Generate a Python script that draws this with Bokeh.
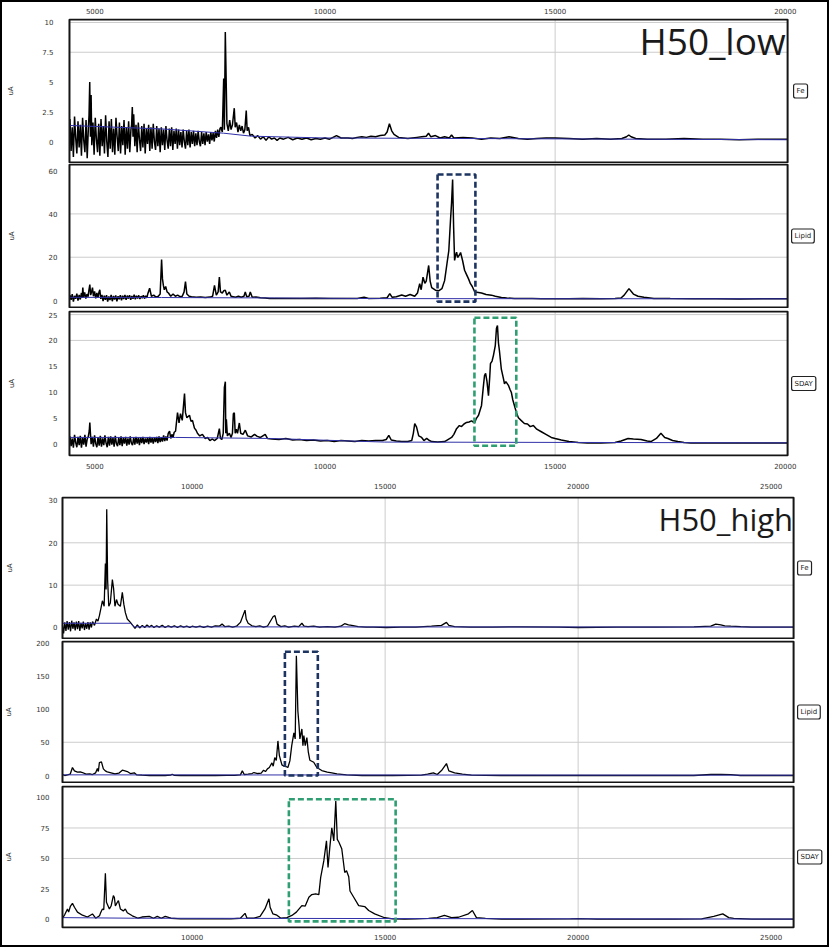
from bokeh.plotting import figure
from bokeh.layouts import column, row
from bokeh.models import FixedTicker, Label, Range1d, LinearAxis, NumeralTickFormatter, Spacer
from bokeh.embed import file_html
from bokeh.resources import INLINE

# ---------------- data ----------------
group_titles = ["H50_low", "H50_high"]
panel_names = ["Fe", "Lipid", "SDAY"]

low_x_ticks = [5000, 10000, 15000, 20000]
high_x_ticks = [10000, 15000, 20000, 25000]
low_x_grid = [15000]
high_x_grid = [15000, 20000]

fe_low_y_ticks = [0, 2.5, 5, 7.5, 10]
lipid_low_y_ticks = [0, 20, 40, 60]
sday_low_y_ticks = [0, 5, 10, 15, 20, 25]
fe_high_y_ticks = [0, 10, 20, 30]
lipid_high_y_ticks = [0, 50, 100, 150, 200]
sday_high_y_ticks = [0, 25, 50, 75, 100]

fe_low_y_grid = [7.5, 10]
lipid_low_y_grid = [20, 40]
sday_low_y_grid = [20, 25]
fe_high_y_grid = [10, 20]
lipid_high_y_grid = [50]
sday_high_y_grid = [50, 75]

# axis extents of each group and panel
low_x_extent = [4450, 20050]
high_x_extent = [6641, 25582]
fe_low_y_extent = [-1.76, 10.25]
lipid_low_y_extent = [-3.2, 62.8]
sday_low_y_extent = [-2.3, 25.6]
fe_high_y_extent = [-2.6, 30.7]
lipid_high_y_extent = [-10.5, 201.5]
sday_high_y_extent = [-6.6, 109.0]

# spectra as (m/z, uA) pairs
fe_low = [
    (4460,1.9),(4485,-0.8),(4510,1.2),(4535,-1.3),(4560,2.1),(4585,0.3),(4610,-1.0),(4635,1.7),(4660,-0.5),(4685,1.4),
    (4710,-1.2),(4735,2.0),(4760,0.1),(4785,-0.9),(4810,1.8),(4835,-1.4),(4860,1.1),(4875,2.2),(4890,5.0),(4905,0.4),
    (4920,3.9),(4935,-0.3),(4960,1.6),(4985,-1.1),(5010,2.0),(5035,0.2),(5060,-0.9),(5085,1.5),(5110,-1.2),(5135,1.9),
    (5160,-0.4),(5185,1.3),(5210,-1.0),(5235,2.2),(5260,0.0),(5285,-1.3),(5310,1.7),(5335,-0.6),(5360,1.9),(5385,-0.9),
    (5410,1.1),(5435,-1.1),(5460,2.0),(5485,0.4),(5510,-0.8),(5535,1.6),(5560,-1.0),(5585,1.3),(5610,-0.3),(5635,1.8),
    (5660,-1.1),(5685,1.2),(5710,-0.6),(5735,1.7),(5760,-0.9),(5785,1.0),(5800,1.4),(5815,2.9),(5830,0.4),(5845,2.3),
    (5870,-0.4),(5895,1.4),(5920,-0.9),(5945,1.6),(5970,0.2),(5995,-0.8),(6020,1.3),(6045,-0.5),(6070,1.5),(6095,-1.0),
    (6120,1.1),(6145,-0.2),(6170,1.4),(6195,-0.8),(6220,1.2),(6245,-0.6),(6270,1.5),(6295,0.0),(6320,-0.7),(6345,1.3),
    (6370,-0.4),(6395,1.1),(6420,-0.9),(6445,1.2),(6470,-0.3),(6495,1.0),(6520,-0.7),(6545,1.3),(6570,0.1),(6595,-0.6),
    (6620,1.1),(6645,-0.4),(6670,1.2),(6695,-0.7),(6720,0.9),(6745,-0.2),(6770,1.1),(6795,-0.6),(6820,1.0),(6845,-0.3),
    (6870,0.8),(6895,-0.5),(6920,1.0),(6945,0.0),(6970,-0.6),(6995,0.9),(7020,-0.3),(7045,1.0),(7070,-0.5),(7095,0.8),
    (7120,-0.2),(7145,0.9),(7170,-0.4),(7195,0.7),(7220,-0.3),(7245,0.9),(7270,0.0),(7295,-0.4),(7320,0.8),(7345,-0.2),
    (7370,0.7),(7395,-0.3),(7420,0.8),(7445,0.0),(7470,0.6),(7495,-0.2),(7520,0.8),(7545,0.1),(7570,0.7),(7595,0.0),
    (7620,0.9),(7645,0.3),(7670,1.0),(7695,0.4),(7720,1.1),
    (7740,1.2),(7770,0.8),(7800,5.3),(7815,1.0),(7835,9.2),(7850,6.0),(7870,1.5),(7900,0.9),(7930,1.8),(7960,1.0),
    (7990,1.4),(8030,2.8),(8050,1.2),(8080,1.6),(8110,0.8),(8140,1.4),(8170,0.9),(8200,1.3),(8230,0.7),(8260,1.0),
    (8290,2.6),(8310,0.9),(8340,1.2),(8370,0.5),(8420,0.6),(8480,0.3),(8540,0.5),(8600,0.2),(8660,0.4),(8720,0.1),
    (8780,0.4),(8840,0.2),(8900,0.3),(8960,0.1),(9020,0.3),(9100,0.2),(9200,0.35),(9300,0.15),(9400,0.3),(9500,0.2),
    (9600,0.3),(9700,0.15),(9800,0.25),(9900,0.2),(10000,0.3),(10100,0.2),(10250,0.5),(10350,0.3),(10500,0.3),(10600,0.25),
    (10700,0.35),(10800,0.4),(10900,0.35),(11000,0.45),(11100,0.4),(11200,0.5),(11300,0.55),(11350,0.8),(11400,1.5),(11450,0.9),
    (11500,0.6),(11600,0.35),(11700,0.3),(11800,0.25),(11900,0.3),(12000,0.35),(12100,0.4),(12200,0.45),(12250,0.7),(12300,0.4),
    (12400,0.5),(12500,0.3),(12600,0.4),(12700,0.3),(12750,0.55),(12800,0.3),(13000,0.35),(13200,0.3),(13400,0.2),(13600,0.3),
    (13800,0.25),(14000,0.4),(14200,0.25),(14400,0.2),(14600,0.25),(14800,0.3),(15000,0.3),(15300,0.25),(15600,0.2),(15900,0.25),
    (16200,0.2),(16450,0.25),(16550,0.4),(16600,0.55),(16650,0.4),(16750,0.25),(17000,0.2),(17400,0.2),(17800,0.25),(18200,0.2),
    (18600,0.2),(19000,0.15),(19400,0.2),(19800,0.2),(20040,0.2)]
fe_low_base = [(4460,1.35),(6500,1.05),(7800,0.7),(8400,0.45),(10000,0.3),(20040,0.15)]

lipid_low = [
    (4460,2.5),(4485,0.3),(4510,3.0),(4535,-0.5),(4560,2.2),(4585,0.8),(4610,3.2),(4635,0.0),(4660,2.6),(4685,0.5),
    (4710,3.5),(4725,1.2),(4740,6.0),(4755,1.5),(4780,3.8),(4805,0.9),(4830,3.0),(4855,1.8),(4870,4.5),(4892,7.4),
    (4910,2.5),(4930,4.0),(4950,6.0),(4970,2.0),(4995,4.2),(5020,1.0),(5045,3.5),(5070,1.4),(5090,3.8),(5109,5.0),
    (5130,0.8),(5155,2.6),(5180,-0.2),(5205,2.3),(5230,0.4),(5255,2.5),(5280,-0.5),(5305,1.9),(5330,0.2),(5355,2.6),
    (5380,-0.3),(5405,2.1),(5430,0.5),(5455,2.4),(5480,-0.4),(5505,2.0),(5530,0.6),(5555,2.5),(5580,0.1),(5605,2.2),
    (5630,0.7),(5655,2.6),(5680,0.3),(5705,2.3),(5730,0.9),(5755,2.5),(5780,0.4),(5805,2.1),(5830,0.8),(5855,2.7),
    (5880,0.6),(5905,2.2),(5930,1.0),(5955,2.4),(5980,0.7),(6005,2.0),(6030,1.1),(6055,2.5),(6080,0.9),(6105,2.2),
    (6130,1.3),(6150,3.0),(6191,5.7),(6230,2.0),(6280,2.5),(6330,1.6),
    (6380,2.0),(6420,3.0),(6451,18.9),(6470,10.0),(6490,7.0),(6510,5.0),(6540,6.5),(6570,4.0),(6600,3.5),(6650,2.0),
    (6700,3.0),(6750,2.0),(6800,2.5),(6850,1.8),(6900,2.0),(6940,4.0),(6970,8.8),(7000,3.0),(7050,2.0),(7100,1.8),
    (7200,1.5),(7300,1.6),(7400,1.4),(7500,1.6),(7560,2.0),(7600,7.0),(7640,2.5),(7680,4.0),(7706,10.8),(7730,4.0),
    (7770,3.5),(7800,4.5),(7835,4.8),(7870,2.5),(7923,4.0),(7960,2.0),(8000,1.8),(8060,1.5),(8120,2.0),(8180,1.5),
    (8240,2.0),(8269,4.0),(8300,1.8),(8350,2.0),(8378,4.0),(8420,1.5),(8500,1.6),(8600,1.3),(8700,1.2),(8800,1.0),
    (9000,0.9),(9300,1.0),(9500,0.9),(9800,1.1),(10100,0.9),(10400,1.0),(10700,1.0),(10850,1.5),(10950,1.0),(11200,1.1),
    (11350,1.3),(11408,3.2),(11460,1.5),(11550,1.8),(11668,2.6),(11750,2.0),(11850,2.8),(11950,2.0),(12010,3.5),(12058,7.8),
    (12090,5.0),(12130,10.8),(12170,8.0),(12200,9.0),(12253,16.2),(12285,9.0),(12318,6.0),(12400,4.8),(12469,4.5),(12540,5.5),
    (12599,9.2),(12650,17.0),(12690,23.0),(12729,37.8),(12750,45.0),(12773,55.9),(12795,33.7),(12816,18.5),(12838,21.0),(12860,22.3),
    (12881,19.9),(12920,21.0),(12946,22.2),(12989,18.5),(13033,14.0),(13076,12.0),(13119,10.0),(13160,7.8),(13200,6.5),(13249,4.2),
    (13300,3.8),(13400,3.5),(13500,2.8),(13617,2.5),(13700,2.0),(13833,1.4),(13950,1.2),(14115,1.0),(14300,0.9),(14500,0.9),
    (14700,0.8),(15000,0.8),(15300,0.8),(15600,0.9),(16000,0.8),(16300,0.9),(16431,1.2),(16500,2.5),(16604,5.5),(16700,3.0),
    (16800,2.0),(16929,1.5),(17146,1.0),(17500,0.9),(18000,0.8),(18500,0.8),(19000,0.7),(19500,0.8),(20040,0.8)]
lipid_low_base = [(4460,1.5),(6450,1.4),(8900,1.2),(11300,0.9),(20040,0.8)]

sday_low = [
    (4460,1.4),(4485,-0.5),(4510,1.0),(4535,-0.8),(4560,1.7),(4585,0.2),(4610,-0.7),(4635,1.3),(4660,-0.3),(4685,1.5),
    (4710,-0.8),(4735,1.1),(4760,-0.2),(4785,1.7),(4810,-0.6),(4835,0.9),(4860,1.4),(4880,2.5),(4892,4.1),(4905,2.0),
    (4920,-0.1),(4945,1.3),(4970,-0.6),(4995,1.6),(5020,0.0),(5045,-0.7),(5070,1.2),(5095,-0.4),(5120,1.5),(5145,-0.6),
    (5170,1.0),(5195,-0.3),(5220,1.6),(5245,0.1),(5270,-0.7),(5295,1.3),(5320,-0.4),(5345,1.4),(5370,-0.2),(5395,1.1),
    (5420,-0.6),(5445,1.5),(5470,0.0),(5495,-0.5),(5520,1.2),(5545,-0.3),(5570,1.4),(5595,-0.5),(5620,1.1),(5645,0.0),
    (5670,1.3),(5695,-0.4),(5720,1.0),(5745,-0.2),(5770,1.4),(5795,0.1),(5820,-0.3),(5845,1.2),(5870,-0.2),(5895,1.3),
    (5920,0.0),(5945,1.1),(5970,-0.3),(5995,1.2),(6020,0.1),(6045,1.3),(6070,-0.1),(6095,1.0),(6120,0.2),(6145,1.2),
    (6170,-0.1),(6195,1.3),(6220,0.2),(6245,1.1),(6270,0.0),(6295,1.2),(6320,0.3),(6345,1.3),(6370,0.1),(6395,1.4),
    (6420,0.3),(6445,1.2),(6470,0.4),(6495,1.6),(6520,0.5),(6545,1.4),(6570,0.6),(6595,2.0),(6624,2.4),(6650,1.0),
    (6675,1.8),(6700,1.2),(6725,2.2),(6754,2.4),(6797,6.0),
    (6830,4.0),(6862,5.8),(6900,4.5),(6949,9.7),(6970,6.0),(7000,5.0),(7057,5.5),(7090,4.3),(7122,4.5),(7165,3.0),
    (7200,2.6),(7230,2.0),(7280,1.5),(7338,1.8),(7400,1.0),(7450,1.2),(7500,0.6),(7555,0.9),(7600,0.6),(7660,1.0),
    (7706,2.9),(7730,1.0),(7760,0.8),(7790,2.0),(7815,10.9),(7836,12.0),(7845,2.0),(7858,4.7),(7880,1.5),(7923,2.0),
    (7960,1.2),(7990,2.0),(8010,5.8),(8031,6.0),(8050,2.0),(8075,2.8),(8100,2.0),(8140,4.0),(8170,2.0),(8220,1.8),
    (8270,2.6),(8320,1.5),(8400,1.3),(8470,1.8),(8529,1.4),(8600,1.2),(8702,1.8),(8750,1.0),(8850,0.9),(9000,0.8),
    (9150,1.0),(9300,0.7),(9450,0.8),(9600,0.6),(9750,0.7),(9900,0.5),(10050,0.6),(10200,0.4),(10350,0.6),(10500,0.5),
    (10650,0.4),(10800,0.6),(10950,0.5),(11100,0.6),(11250,0.6),(11330,0.8),(11387,1.6),(11440,0.7),(11550,0.5),(11668,0.4),
    (11800,0.4),(11885,0.6),(11920,2.0),(11950,3.9),(11990,3.2),(12037,1.5),(12100,1.2),(12150,0.6),(12210,1.0),(12270,0.6),
    (12318,0.4),(12450,0.3),(12600,0.4),(12751,1.2),(12800,1.8),(12859,2.9),(12920,3.5),(12967,3.3),(13020,3.8),(13076,4.1),
    (13130,4.2),(13184,4.4),(13249,4.0),(13290,4.9),(13336,5.5),(13401,7.4),(13440,11.0),(13466,13.2),(13490,13.6),(13520,12.0),
    (13552,9.3),(13580,13.0),(13595,15.5),(13630,16.0),(13660,17.1),(13700,19.0),(13725,22.3),(13747,22.9),(13769,19.5),(13790,18.0),
    (13830,14.5),(13877,12.6),(13900,11.6),(13930,12.0),(13985,11.3),(14020,10.5),(14050,9.9),(14080,8.5),(14115,7.4),(14160,6.0),
    (14202,5.0),(14260,4.5),(14332,3.9),(14400,3.8),(14460,3.3),(14527,3.5),(14600,2.8),(14700,2.3),(14800,1.8),(14916,1.2),
    (15000,1.0),(15133,0.7),(15300,0.4),(15501,0.2),(15700,0.1),(16000,0.1),(16300,0.2),(16432,0.5),(16584,1.0),(16700,0.9),
    (16865,0.8),(17000,0.5),(17081,0.4),(17200,1.0),(17298,2.0),(17380,1.2),(17449,1.0),(17550,0.6),(17666,0.4),(17800,0.2),
    (17948,0.1),(18500,0.1),(19000,0.1),(19500,0.1),(20040,0.1)]
sday_low_base = [(4460,1.2),(6750,1.2),(8800,1.0),(11300,0.3),(20040,0.15)]

fe_high = [
    (6641,0.5),(6670,-1.4),(6700,1.2),(6730,-0.8),(6760,1.5),(6790,-0.5),(6820,1.3),(6850,-0.9),(6880,1.6),(6910,-0.3),
    (6940,1.2),(6970,-0.7),(7000,1.4),(7030,-0.4),(7060,1.5),(7090,-0.8),(7120,1.1),(7150,-0.2),(7180,1.4),(7210,-0.6),
    (7240,1.0),(7270,-0.3),(7300,1.3),(7330,-0.5),(7360,1.2),(7390,0.0),(7420,1.4),(7470,0.5),(7520,2.0),(7560,1.5),
    (7597,2.8),(7640,4.7),(7675,6.3),(7720,5.0),(7752,15.1),(7770,9.0),(7787,27.9),(7810,11.2),(7840,5.0),(7880,5.8),
    (7933,11.3),(7965,9.2),(8000,5.0),(8040,6.6),(8080,5.5),(8140,5.0),(8191,8.3),(8230,5.5),(8270,3.5),(8320,2.0),
    (8400,1.2),(8460,0.5),(8520,-0.2),(8580,0.6),(8640,-0.1),(8708,0.5),(8770,0.0),(8830,0.6),(8890,0.1),(8950,0.5),
    (9010,0.0),(9080,0.4),(9150,0.1),(9225,0.5),(9300,0.0),(9380,0.4),(9460,0.1),(9540,0.4),(9620,0.0),(9700,0.4),
    (9780,0.1),(9860,0.3),(9940,0.0),(10000,0.3),(10100,0.1),(10200,0.3),(10300,0.0),(10400,0.3),(10500,0.1),(10600,0.4),
    (10700,0.3),(10775,0.8),(10850,0.2),(10950,0.3),(11050,0.1),(11150,0.3),(11250,1.2),(11370,4.1),(11400,2.0),(11450,1.0),
    (11550,0.4),(11650,0.2),(11750,0.4),(11850,0.1),(11950,0.3),(12100,2.6),(12145,2.8),(12200,0.8),(12300,0.2),(12400,0.4),
    (12500,0.1),(12650,0.3),(12760,0.2),(12843,1.0),(12900,0.3),(13000,0.2),(13150,0.3),(13300,0.1),(13500,0.2),(13700,0.1),
    (13850,0.3),(13950,0.9),(14050,0.6),(14134,0.5),(14300,0.2),(14500,0.1),(14700,0.1),(15039,0.0),(15400,0.1),(15800,0.1),
    (16200,0.3),(16460,0.5),(16589,1.2),(16650,0.5),(16800,0.2),(17200,0.1),(17800,0.1),(18500,0.15),(19500,0.1),(20000,0.0),
    (21000,0.1),(22000,0.1),(23000,0.15),(23437,0.3),(23566,0.8),(23696,0.6),(23800,0.4),(23954,0.3),(24213,0.2),(24500,0.1),
    (25000,0.1),(25580,0.1)]
fe_high_base = [(6641,1.0),(8400,1.0),(8500,0.15),(25580,0.1)]

lipid_high = [
    (6641,1.5),(6700,0.0),(6770,1.0),(6840,2.0),(6899,12.0),(6950,7.0),(7029,5.0),(7100,5.5),(7158,4.5),(7250,2.0),
    (7350,2.5),(7417,1.5),(7500,4.0),(7545,10.5),(7570,6.0),(7597,19.5),(7650,20.5),(7700,10.0),(7750,7.0),(7800,5.5),
    (7900,4.0),(8000,2.5),(8100,3.5),(8191,8.0),(8260,7.0),(8320,6.0),(8400,3.0),(8500,4.0),(8560,1.0),(8700,0.5),
    (8900,0.0),(9100,0.3),(9300,0.0),(9440,0.5),(9483,2.0),(9530,0.3),(9700,0.0),(10000,0.0),(10300,0.3),(10600,0.0),
    (10900,0.2),(11100,0.3),(11250,1.0),(11300,7.0),(11350,1.5),(11450,2.0),(11550,3.0),(11600,4.5),(11700,3.0),(11790,3.5),
    (11850,8.0),(11900,6.0),(11950,10.0),(12000,12.0),(12067,19.0),(12100,14.0),(12140,27.0),(12180,22.5),(12222,52.0),(12260,30.0),
    (12326,16.0),(12380,14.0),(12430,13.5),(12480,12.0),(12532,22.0),(12580,45.0),(12636,64.0),(12670,55.0),(12700,180.0),(12739,97.0),
    (12770,75.0),(12791,55.0),(12843,70.0),(12870,45.0),(12894,60.0),(12930,45.0),(12972,57.0),(13010,35.0),(13049,23.0),(13150,20.0),
    (13230,12.0),(13359,7.5),(13500,5.0),(13618,4.0),(13750,2.5),(14000,1.0),(14400,0.0),(14800,0.2),(15200,0.0),(15600,0.3),
    (15944,0.5),(16100,2.0),(16250,4.0),(16350,1.5),(16460,7.5),(16589,18.0),(16650,7.0),(16800,4.0),(17000,2.0),(17235,0.5),
    (17600,0.2),(18000,0.0),(19000,0.0),(20000,0.0),(21000,0.0),(22000,0.0),(23000,0.0),(23437,1.5),(23700,1.5),(23954,1.2),
    (24200,0.0),(25580,0.0)]
lipid_high_base = [(6641,1.0),(25580,0.5)]

sday_high = [
    (6641,1.0),(6700,4.0),(6770,8.6),(6800,6.0),(6848,11.0),(6899,13.2),(6951,10.0),(7029,6.0),(7158,3.5),(7287,2.0),
    (7417,4.5),(7500,1.0),(7600,3.0),(7623,5.0),(7675,8.6),(7710,8.0),(7752,37.8),(7780,14.1),(7856,8.6),(7900,11.0),
    (7959,19.6),(7985,18.0),(8011,11.0),(8062,14.1),(8090,15.5),(8140,8.6),(8217,7.0),(8269,8.6),(8320,5.5),(8450,3.0),
    (8600,1.0),(8700,2.0),(8889,2.5),(9000,1.0),(9096,2.5),(9200,1.0),(9303,2.5),(9450,1.0),(9700,0.5),(10000,0.4),
    (10500,0.5),(11000,0.4),(11250,1.0),(11370,5.0),(11421,1.0),(11600,1.0),(11760,2.5),(11886,8.6),(11990,17.0),(12020,10.0),
    (12093,4.5),(12196,3.5),(12300,1.0),(12455,1.5),(12584,3.3),(12700,6.0),(12843,11.4),(12930,11.0),(13024,18.2),(13101,20.4),
    (13200,21.0),(13282,20.4),(13330,34.5),(13411,48.0),(13480,64.4),(13520,42.6),(13566,58.9),(13618,75.2),(13670,64.4),(13721,97.0),
    (13760,65.7),(13800,63.5),(13876,58.0),(13953,38.5),(14000,40.0),(14057,35.0),(14090,23.3),(14186,18.2),(14315,11.4),(14470,10.6),
    (14574,7.3),(14729,4.6),(14987,1.4),(15200,0.5),(15500,0.3),(15800,0.4),(16124,0.8),(16350,1.5),(16537,3.3),(16719,1.5),
    (16900,1.8),(17158,4.6),(17261,7.3),(17365,1.5),(17600,0.8),(18011,0.3),(18500,0.3),(19800,0.4),(20000,0.6),(20500,0.3),
    (21500,0.3),(22500,0.3),(23200,0.5),(23514,2.5),(23747,4.6),(23902,1.5),(24031,0.8),(24500,0.3),(25580,0.3)]
sday_high_base = [(6641,1.5),(8500,1.0),(25580,0.3)]

# highlighted regions: left, right, bottom, top
box_low_lipid = [12446, 13268, -0.5, 58.2]
box_low_sday = [13247, 14156, -0.4, 24.4]
box_high_lipid = [12403, 13256, 0.0, 186.0]
box_high_sday = [12506, 15272, -1.6, 98.6]

# ---------------- styling / building ----------------
FW = 825          # figure width inside the outer 2px border
MBL = 56          # left border of every figure
TICK_FONT = "DejaVu Sans"
NAVY = "#1d3461"
GREEN = "#2f9e72"
BASE_BLUE = "#3030a8"
GRID = "#cccccc"


def style_axis(ax, standoff):
    ax.axis_line_color = None
    ax.major_tick_line_color = None
    ax.minor_tick_line_color = None
    ax.major_tick_out = 0
    ax.major_tick_in = 0
    ax.minor_tick_out = 0
    ax.major_label_text_font = TICK_FONT
    ax.major_label_text_font_size = "7px"
    ax.major_label_text_color = "#333333"
    ax.major_label_standoff = standoff


def make_panel(h, top, bottom, bx, by, bw, bh, pad_l, pad_r, yticks, ygrid, xgrid,
               pts, base, name, xticks=None, xloc=None, xstandoff=5, ystandoff=5,
               lstandoff=28, lw=1.3, box=None, box_color=None, title=None, label_dx=4):
    ux = (bx[1] - bx[0]) / bw
    uy = (by[1] - by[0]) / bh
    xr = (bx[0] - pad_l * ux, bx[1] + pad_r * ux)
    yr = (by[0] - uy, by[1] + uy)
    p = figure(width=FW, height=h, x_range=Range1d(*xr), y_range=Range1d(*yr), title=None,
               x_axis_location=None, y_axis_location=None, toolbar_location=None,
               output_backend="svg", min_border_left=MBL, min_border_right=0,
               min_border_top=top, min_border_bottom=bottom)
    p.grid.visible = False
    p.outline_line_color = None
    p.background_fill_color = "white"
    p.border_fill_color = "white"

    # grid lines, limited to the panel box
    p.segment(x0=[bx[0]] * len(ygrid), x1=[bx[1]] * len(ygrid), y0=ygrid, y1=ygrid,
              line_color=GRID, line_width=1)
    p.segment(x0=xgrid, x1=xgrid, y0=[by[0]] * len(xgrid), y1=[by[1]] * len(xgrid),
              line_color=GRID, line_width=1)

    ya = LinearAxis(ticker=FixedTicker(ticks=yticks),
                    formatter=NumeralTickFormatter(format="0.[0]"), axis_label="uA")
    style_axis(ya, ystandoff)
    ya.axis_label_standoff = lstandoff
    ya.axis_label_text_font = TICK_FONT
    ya.axis_label_text_font_size = "7px"
    ya.axis_label_text_font_style = "normal"
    ya.axis_label_text_color = "#333333"
    p.add_layout(ya, "left")

    if xloc is not None:
        xa = LinearAxis(ticker=FixedTicker(ticks=xticks),
                        formatter=NumeralTickFormatter(format="0"))
        style_axis(xa, xstandoff)
        p.add_layout(xa, xloc)

    xs = [a for a, b in pts]
    ys = [b for a, b in pts]
    p.line(xs, ys, line_color="black", line_width=lw)
    bxs = [a for a, b in base]
    bys = [b for a, b in base]
    p.line(bxs, bys, line_color=BASE_BLUE, line_width=1)

    if box is not None:
        p.quad(left=[box[0]], right=[box[1]], bottom=[box[2]], top=[box[3]],
               fill_color=None, line_color=box_color, line_width=2.6, line_dash="6 3")

    # panel frame
    p.quad(left=[bx[0]], right=[bx[1]], bottom=[by[0]], top=[by[1]],
           fill_color=None, line_color="#151515", line_width=2)

    p.add_layout(Label(x=bx[1] + label_dx * ux, y=(by[0] + by[1]) / 2, text=name,
                       text_font=TICK_FONT, text_font_size="7px", text_color="#222222",
                       text_align="left", text_baseline="middle",
                       border_line_color="#222222", border_line_width=1.2,
                       background_fill_color="white", padding=3, border_radius=2))
    if title is not None:
        text, size, dx, dy = title
        p.add_layout(Label(x=bx[1] - dx * ux, y=by[1] - dy * uy,
                           text=text, text_font="Open Sans", text_font_size=size,
                           text_color="#1a1a1a", text_align="right",
                           text_baseline="alphabetic"))
    return p


# upper group: box 720 px wide, lower group: 733 px wide (frame 769 px)
p1 = make_panel(161, 16, 0, low_x_extent, fe_low_y_extent, 720, 143, 9, 40,
                fe_low_y_ticks, fe_low_y_grid, low_x_grid, fe_low, fe_low_base, panel_names[0],
                xticks=low_x_ticks, xloc="above", xstandoff=5, ystandoff=7, lstandoff=24,
                lw=1.5, title=(group_titles[0], "37px", 2, 21), label_dx=6)
p2 = make_panel(145, 0, 0, low_x_extent, lipid_low_y_extent, 720, 143, 9, 40,
                lipid_low_y_ticks, lipid_low_y_grid, low_x_grid, lipid_low, lipid_low_base,
                panel_names[1], ystandoff=3, lstandoff=30, lw=1.5,
                box=box_low_lipid, box_color=NAVY)
p3 = make_panel(167, 2, 19, low_x_extent, sday_low_y_extent, 720, 144, 9, 40,
                sday_low_y_ticks, sday_low_y_grid, low_x_grid, sday_low, sday_low_base,
                panel_names[2], xticks=low_x_ticks, xloc="below", xstandoff=6, ystandoff=3,
                lstandoff=30, lw=1.5, box=box_low_sday, box_color=GREEN)
p4 = make_panel(164, 21, 0, high_x_extent, fe_high_y_extent, 733, 141, 2, 34,
                fe_high_y_ticks, fe_high_y_grid, high_x_grid, fe_high, fe_high_base,
                panel_names[0], xticks=high_x_ticks, xloc="above", xstandoff=8, ystandoff=3,
                lstandoff=32, lw=1.3, title=(group_titles[1], "31px", 0.5, 21), label_dx=4)
p5 = make_panel(144, 1, 0, high_x_extent, lipid_high_y_extent, 733, 141, 2, 34,
                lipid_high_y_ticks, lipid_high_y_grid, high_x_grid, lipid_high, lipid_high_base,
                panel_names[1], ystandoff=11, lstandoff=20, lw=1.3,
                box=box_high_lipid, box_color=NAVY, label_dx=4)
p6 = make_panel(162, 2, 17, high_x_extent, sday_high_y_extent, 733, 141, 2, 34,
                sday_high_y_ticks, sday_high_y_grid, high_x_grid, sday_high, sday_high_base,
                panel_names[2], xticks=high_x_ticks, xloc="below", xstandoff=5, ystandoff=11,
                lstandoff=20, lw=1.3, box=box_high_sday, box_color=GREEN, label_dx=4)

black = {"background-color": "#000000"}
inner = column(Spacer(width=FW, height=2, styles=black), p1, p2, p3, p4, p5, p6,
               Spacer(width=FW, height=2, styles=black), spacing=0)
layout = row(Spacer(width=2, height=947, styles=black), inner,
             Spacer(width=2, height=947, styles=black), spacing=0)

open("out.html", "w").write(file_html(layout, INLINE))
